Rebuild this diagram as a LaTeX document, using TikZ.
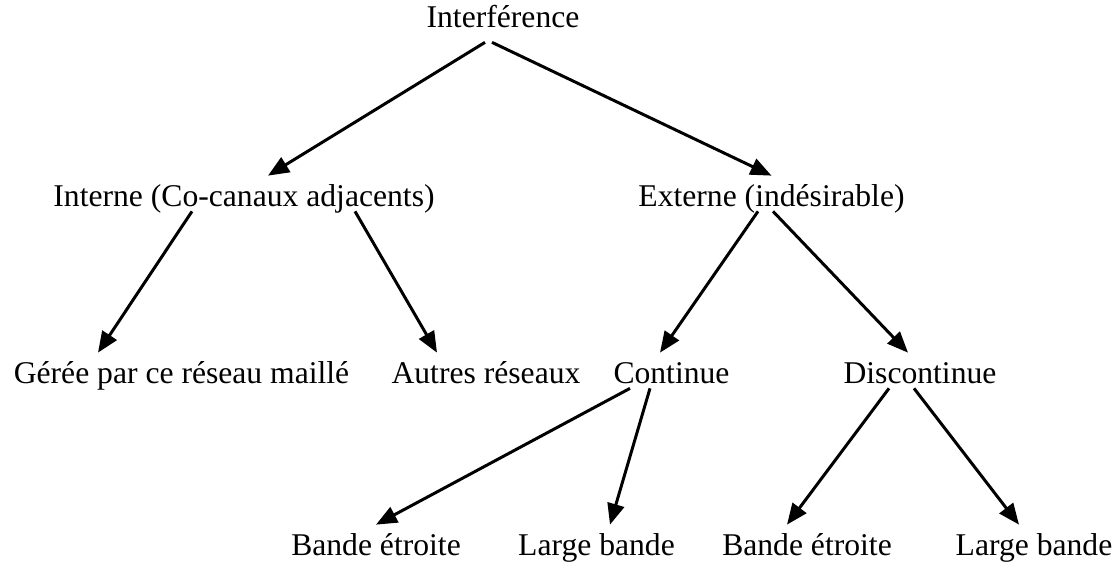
\documentclass[tikz,border=0pt]{standalone}
\usepackage{fontspec}
\setmainfont{Liberation Serif}
\usetikzlibrary{arrows.meta}

\tikzset{
  lbl/.style={anchor=base, inner sep=0pt, text height=0.60cm, text depth=0.10cm,
    font=\fontsize{18pt}{21pt}\selectfont},
  arr/.style={-{Triangle[length=0.42cm,width=0.34cm]}, line width=1.7pt}
}

\begin{document}
\begin{tikzpicture}
  \useasboundingbox (0,0) rectangle (22.4,-11.26);
  \node [lbl, text depth=0.28cm] (root) at (10.06,-0.56) {Interférence};
  \node [lbl] (intn) at (4.88,-4.12) {Interne (Co-canaux adjacents)};
  \node [lbl] (extn) at (15.43,-4.12) {Externe (indésirable)};
  \node [lbl] (geree) at (3.63,-7.66) {Gérée par ce réseau maillé};
  \node [lbl] (autres) at (9.72,-7.66) {Autres réseaux};
  \node [lbl] (cont) at (13.43,-7.66) {Continue};
  \node [lbl] (disc) at (18.40,-7.66) {Discontinue};
  \node [lbl] (be_1) at (7.52,-11.10) {Bande étroite};
  \node [lbl] (lb_1) at (11.93,-11.10) {Large bande};
  \node [lbl] (be_2) at (16.14,-11.10) {Bande étroite};
  \node [lbl] (lb_2) at (20.68,-11.10) {Large bande};
    \path[arr]
    ([xshift=-0.36cm]root.south) edge ([xshift=0.48cm]intn.north)
    ([xshift=-0.22cm]root.south) edge (extn.north)
    ([xshift=-1.04cm]intn.south) edge ([xshift=-1.67cm]geree.north)
    ([xshift=2.22cm]intn.south) edge ([xshift=-0.98cm]autres.north)
    ([xshift=-0.27cm]extn.south) edge ([xshift=-0.23cm]cont.north)
    ([xshift=0.03cm]extn.south) edge ([xshift=-0.24cm]disc.north)
    ([xshift=-0.83cm]cont.south) edge (be_1.north)
    ([xshift=-0.43cm]cont.south) edge ([xshift=0.27cm]lb_1.north)
    ([xshift=-0.62cm]disc.south) edge ([xshift=-0.40cm]be_2.north)
    ([xshift=-0.12cm]disc.south) edge ([xshift=-0.30cm]lb_2.north);
\end{tikzpicture}
\end{document}
